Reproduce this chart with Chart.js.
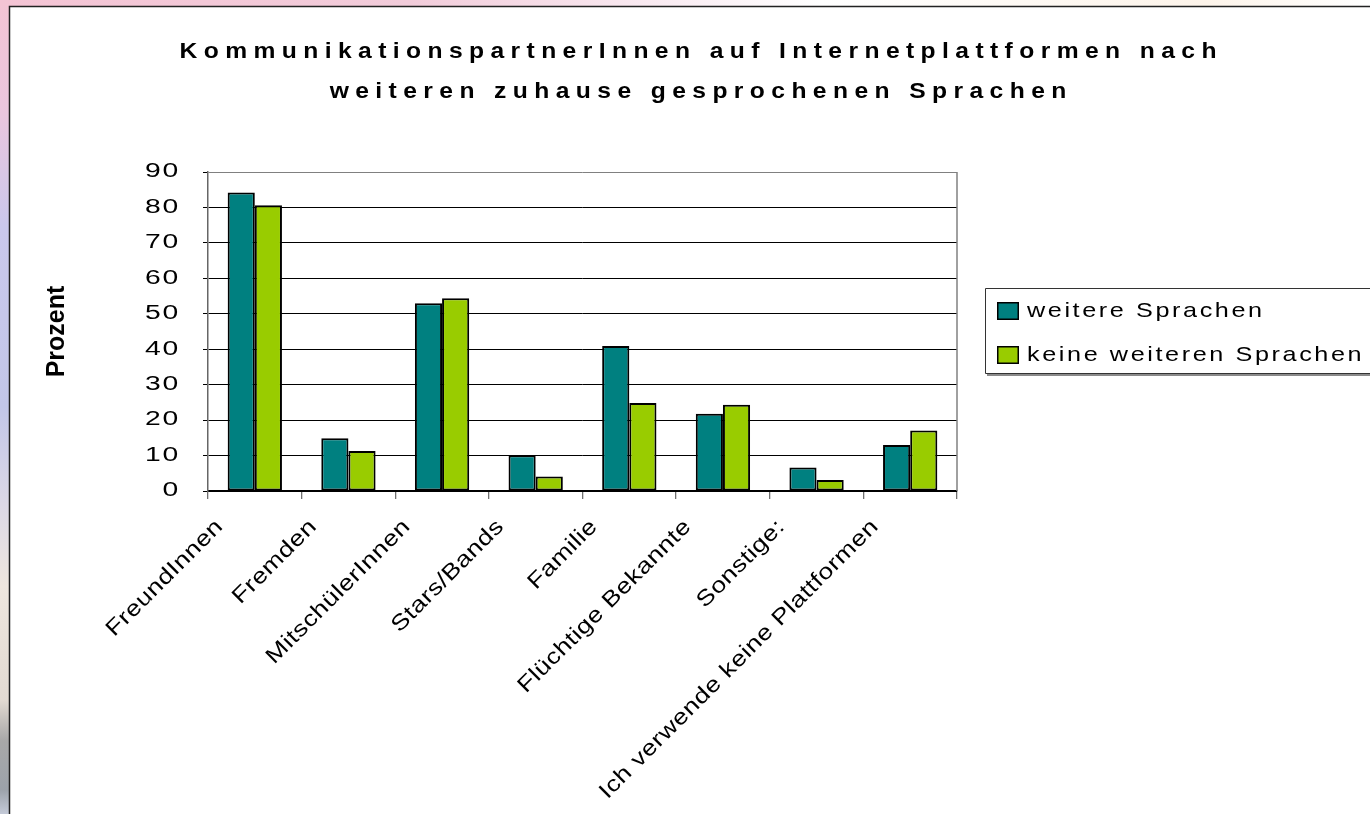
<!DOCTYPE html>
<html>
<head>
<meta charset="utf-8">
<script src="https://cdn.jsdelivr.net/npm/chart.js@4.4.0/dist/chart.umd.min.js"></script>
<style>
  html, body { margin: 0; padding: 0; background: #fff; overflow: hidden; }
  #wrap { position: relative; width: 1370px; height: 814px; }
  canvas { display: block; }
</style>
</head>
<body>
<div id="wrap"><canvas id="chart" width="1370" height="814"></canvas></div>
<script>
// ---- data ----
const categories = [
  'FreundInnen', 'Fremden', 'MitschülerInnen', 'Stars/Bands',
  'Familie', 'Flüchtige Bekannte', 'Sonstige:', 'Ich verwende keine Plattformen'
];
const seriesNames = ['weitere Sprachen', 'keine weiteren Sprachen'];
const weitereSprachen = [84.2, 14.9, 53.0, 10.1, 40.9, 21.8, 6.6, 13.0];
const keineWeiterenSprachen = [80.6, 11.3, 54.4, 4.1, 24.8, 24.3, 3.1, 17.1];
const yTicks = [0, 10, 20, 30, 40, 50, 60, 70, 80, 90];
const titleLines = [
  'KommunikationspartnerInnen auf Internetplattformen nach',
  'weiteren zuhause gesprochenen Sprachen'
];
const yAxisTitle = 'Prozent';

// ---- look ----
const FONT = "'Liberation Sans', Arial, sans-serif";
const TEAL = '#008080';
const LIME = '#99cc00';

// Wide, letter-spaced lettering: per font (weight + size) a horizontal
// stretch factor k and a letter spacing s (screen px).
const stretch = {
  'b22':  { k: 1.12, s: 6.4 },  // title
  '21':   { k: 1.20, s: 2.6 },  // legend
  '19.5': { k: 1.45, s: 1.8 },  // value axis
  '22':   { k: 1.20, s: 0.5 }   // category axis
};

function installStretchedText(ctx) {
  const base = ctx.fillText;
  ctx.fillText = function (text, x, y, maxWidth) {
    const f = this.font;
    const m = /([\d.]+)px/.exec(f);
    const key = m ? ((/bold|\b700\b/.test(f) ? 'b' : '') + m[1]) : '';
    const st = stretch[key];
    if (!st) {
      return maxWidth === undefined ? base.call(this, text, x, y) : base.call(this, text, x, y, maxWidth);
    }
    this.save();
    this.translate(x, y);
    this.scale(st.k, 1);
    this.letterSpacing = (st.s / st.k) + 'px';
    base.call(this, text, 0, 0);
    this.restore();
  };
}

// page backdrop and chart frame
const backdrop = {
  id: 'backdrop',
  beforeDraw(chart) {
    const ctx = chart.ctx;
    const W = chart.width, H = chart.height;
    ctx.save();
    ctx.fillStyle = '#ffffff';
    ctx.fillRect(0, 0, W, H);

    const gl = ctx.createLinearGradient(0, 0, 0, H);
    gl.addColorStop(0.00, '#f4c4d4');
    gl.addColorStop(0.14, '#eac6de');
    gl.addColorStop(0.28, '#cac8ec');
    gl.addColorStop(0.50, '#c2c6e8');
    gl.addColorStop(0.62, '#dcd8e6');
    gl.addColorStop(0.72, '#eee6de');
    gl.addColorStop(0.86, '#e2dad2');
    gl.addColorStop(0.91, '#a8a8a8');
    gl.addColorStop(0.97, '#9ca2aa');
    gl.addColorStop(1.00, '#c4cad8');
    ctx.fillStyle = gl;
    ctx.fillRect(0, 0, 9, H);

    const gt = ctx.createLinearGradient(0, 0, W, 0);
    gt.addColorStop(0.00, '#f4c4d4');
    gt.addColorStop(0.30, '#f2ccda');
    gt.addColorStop(0.45, '#f8e6ee');
    gt.addColorStop(0.60, '#ffffff');
    gt.addColorStop(0.88, '#fdf4ea');
    gt.addColorStop(1.00, '#ffffff');
    ctx.fillStyle = gt;
    ctx.fillRect(0, 0, W, 6);

    ctx.strokeStyle = '#222';
    ctx.lineWidth = 1.5;
    ctx.beginPath();
    ctx.moveTo(9.5, H);
    ctx.lineTo(9.5, 6.5);
    ctx.lineTo(W, 6.5);
    ctx.stroke();
    ctx.restore();
  },
  afterDatasetsDraw(chart) {
    // right edge of the plot area
    const { ctx, chartArea: a } = chart;
    ctx.save();
    ctx.strokeStyle = '#808080';
    ctx.lineWidth = 1.5;
    ctx.beginPath();
    ctx.moveTo(a.right, a.top);
    ctx.lineTo(a.right, a.bottom);
    ctx.stroke();
    ctx.restore();
  }
};

// two-line heading and boxed legend
const heading = {
  id: 'heading',
  afterDraw(chart) {
    const ctx = chart.ctx;
    ctx.save();
    ctx.fillStyle = '#000';
    ctx.font = 'bold 22px ' + FONT;
    ctx.textAlign = 'center';
    ctx.textBaseline = 'alphabetic';
    const cx = 698 + stretch['b22'].s / 2;
    ctx.fillText(titleLines[0], cx, 58);
    ctx.fillText(titleLines[1], cx, 98);

    // legend box
    ctx.strokeStyle = '#333';
    ctx.lineWidth = 1;
    ctx.beginPath();
    ctx.moveTo(1380, 288.5);
    ctx.lineTo(985.5, 288.5);
    ctx.lineTo(985.5, 373.5);
    ctx.lineTo(1380, 373.5);
    ctx.stroke();
    ctx.fillStyle = '#8a8a8a';
    ctx.fillRect(987, 374, 400, 2);

    const rows = [311, 355];
    chart.data.datasets.forEach((ds, i) => {
      const cy = rows[i];
      ctx.fillStyle = ds.backgroundColor;
      ctx.fillRect(997, cy - 9, 22, 18);
      ctx.strokeStyle = '#000';
      ctx.lineWidth = 1.5;
      ctx.strokeRect(997.75, cy - 8.25, 20.5, 16.5);
      ctx.fillStyle = '#000';
      ctx.font = '21px ' + FONT;
      ctx.textAlign = 'left';
      ctx.textBaseline = 'alphabetic';
      ctx.fillText(ds.label, 1027, cy + 6);
    });
    ctx.restore();
  }
};

const canvas = document.getElementById('chart');
const ctx2d = canvas.getContext('2d');
installStretchedText(ctx2d);

new Chart(ctx2d, {
  type: 'bar',
  data: {
    labels: categories,
    datasets: [
      {
        label: seriesNames[0], data: weitereSprachen,
        backgroundColor: TEAL, borderColor: '#000', borderWidth: 2, borderSkipped: false,
        categoryPercentage: 0.58, barPercentage: 1.0
      },
      {
        label: seriesNames[1], data: keineWeiterenSprachen,
        backgroundColor: LIME, borderColor: '#000', borderWidth: 2, borderSkipped: false,
        categoryPercentage: 0.58, barPercentage: 1.0
      }
    ]
  },
  options: {
    responsive: false,
    animation: false,
    devicePixelRatio: 1,
    layout: { padding: { top: 172, right: 413, bottom: 0, left: 0 } },
    plugins: {
      legend: { display: false },
      title: { display: false },
      tooltip: { enabled: false }
    },
    scales: {
      x: {
        grid: { offset: true, drawOnChartArea: false, drawTicks: true, tickLength: 8, color: '#707070', lineWidth: 1.3 },
        border: { display: true, color: '#000', width: 2 },
        ticks: {
          minRotation: 45, maxRotation: 45, autoSkip: false,
          padding: 15, labelOffset: -35,
          color: '#000', font: { family: FONT, size: 22 }
        },
        afterFit(scale) { scale.height = 323; }
      },
      y: {
        min: 0, max: 90,
        afterBuildTicks(scale) { scale.ticks = yTicks.map(v => ({ value: v })); },
        ticks: { padding: 23, color: '#000', font: { family: FONT, size: 19.5 } },
        grid: {
          color: c => (c.tick && c.tick.value === 90 ? '#808080' : '#000'),
          lineWidth: 1, tickLength: 5, tickColor: '#000'
        },
        border: { display: true, color: '#666', width: 1.5 },
        title: {
          display: true, text: yAxisTitle, color: '#000',
          font: { family: FONT, size: 25, weight: 'bold' },
          padding: { top: 42, bottom: 0 }
        },
        afterFit(scale) { scale.width = 208; }
      }
    }
  },
  plugins: [backdrop, heading]
});
</script>
</body>
</html>
